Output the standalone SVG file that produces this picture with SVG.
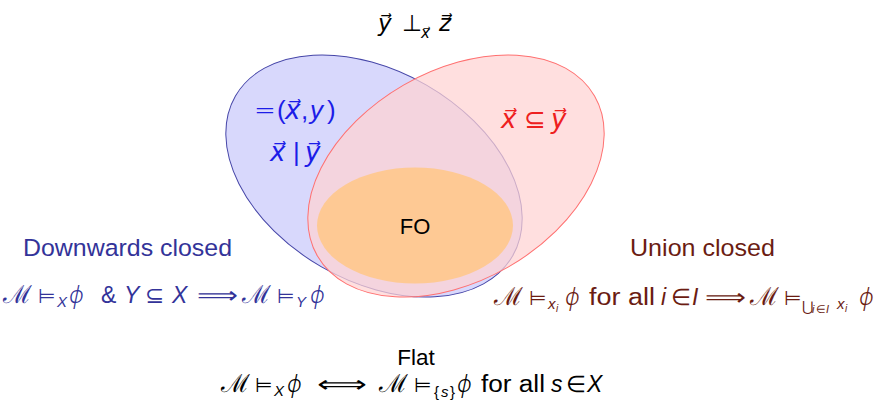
<svg xmlns="http://www.w3.org/2000/svg" width="883" height="402" viewBox="0 0 883 402">
<style>
text{font-family:"Liberation Sans","DejaVu Sans",sans-serif;}
.i{font-style:italic;}
.m{font-size:23px;}
.s{font-size:15px;}
.ss{font-size:10px;}
.sym{font-family:"DejaVu Sans",sans-serif;font-weight:200;}
.phi{font-family:"Noto Sans","DejaVu Sans",sans-serif;font-style:italic;font-weight:300;}
.rel{font-size:20px;}
.lab{font-size:24.5px;}
.blue{fill:#1c1ce8;}
.red{fill:#ee2020;}
.dn{fill:#333399;}
.un{fill:#6b1c12;}
</style>
<g id="venn">
<g id="blue-set"><ellipse cx="374" cy="176" rx="160" ry="105" transform="rotate(30 374 176)" fill="#d8d8fc" stroke="#4646a8" stroke-width="1"/></g>
<g id="red-set"><ellipse cx="456" cy="176" rx="160" ry="105" transform="rotate(-30 456 176)" fill="#ffd2d2" fill-opacity="0.72" stroke="#ff7070" stroke-width="1"/></g>
<g id="fo"><ellipse cx="415" cy="225.5" rx="98" ry="58" fill="#fec994"/><text x="415" y="234" font-size="22" text-anchor="middle" fill="#000">FO</text></g>
</g>
<g id="top-label"><text class="m" y="31" fill="#000"><tspan class="i sym" x="378">y⃗</tspan><tspan class="sym" x="402">⊥</tspan><tspan class="i sym s" x="421" y="38">x⃗</tspan><tspan class="i sym" x="439" y="31">z⃗</tspan></text></g>
<g id="blue-labels" class="blue">
<text y="119" font-size="26"><tspan class="sym" x="254">=</tspan><tspan x="277">(</tspan><tspan class="i sym" x="285">x⃗</tspan><tspan x="301">,</tspan><tspan class="i" x="310">y</tspan><tspan x="327">)</tspan></text>
<text y="161" font-size="26"><tspan class="i sym" x="270">x⃗</tspan><tspan x="293">|</tspan><tspan class="i sym" x="305">y⃗</tspan></text>
</g>
<g id="red-label" class="red"><text y="128" font-size="26"><tspan class="i sym" x="501">x⃗</tspan><tspan class="sym" x="524">⊆</tspan><tspan class="i sym" x="551">y⃗</tspan></text></g>
<g id="downwards">
<text class="lab dn" x="23" y="256" textLength="209" lengthAdjust="spacingAndGlyphs">Downwards closed</text>
<text class="m dn" y="303"><tspan class="sym" x="3" font-size="25">ℳ</tspan><tspan class="sym rel" x="38">⊨</tspan><tspan class="i s" x="57" y="307">X</tspan><tspan class="phi" x="69" y="303">ϕ</tspan><tspan x="101">&amp;</tspan><tspan class="i" x="124">Y</tspan><tspan class="sym" x="145">⊆</tspan><tspan class="i" x="172">X</tspan><tspan class="sym" x="197" textLength="41" lengthAdjust="spacingAndGlyphs">⟹</tspan><tspan class="sym" x="242" font-size="25">ℳ</tspan><tspan class="sym rel" x="277">⊨</tspan><tspan class="i s" x="296" y="307">Y</tspan><tspan class="phi" x="310" y="303">ϕ</tspan></text>
</g>
<g id="union">
<text class="lab un" x="630" y="256" textLength="145" lengthAdjust="spacingAndGlyphs">Union closed</text>
<text class="m un" y="305"><tspan class="sym" x="494" font-size="25">ℳ</tspan><tspan class="sym rel" x="529">⊨</tspan><tspan class="i s" x="548" y="309">x</tspan><tspan class="i ss" x="556" y="312">i</tspan><tspan class="phi" x="565" y="305">ϕ</tspan><tspan x="589" textLength="66" lengthAdjust="spacingAndGlyphs">for all</tspan><tspan class="i" x="661">i</tspan><tspan class="sym" x="671">∈</tspan><tspan class="i" x="692">I</tspan><tspan class="sym" x="705" textLength="41" lengthAdjust="spacingAndGlyphs">⟹</tspan><tspan class="sym" x="750" font-size="25">ℳ</tspan><tspan class="sym rel" x="784">⊨</tspan><tspan class="sym" x="802" y="311" font-size="14">⋃</tspan><tspan class="i" x="812" y="313" font-size="11">i</tspan><tspan class="sym" x="816" y="313" font-size="11">∈</tspan><tspan class="i" x="826" y="313" font-size="11">I</tspan><tspan class="i s" x="837" y="309">x</tspan><tspan class="i ss" x="845" y="312">i</tspan><tspan class="phi" x="859" y="305">ϕ</tspan></text>
</g>
<g id="flat">
<text x="416" y="365" font-size="22.5" text-anchor="middle" fill="#000">Flat</text>
<text class="m" y="392" fill="#000"><tspan class="sym" x="221" font-size="25">ℳ</tspan><tspan class="sym rel" x="255">⊨</tspan><tspan class="i s" x="274" y="396">X</tspan><tspan class="phi" x="287" y="392">ϕ</tspan><tspan class="sym" x="317" textLength="50" lengthAdjust="spacingAndGlyphs">⟺</tspan><tspan class="sym" x="379" font-size="25">ℳ</tspan><tspan class="sym rel" x="414">⊨</tspan><tspan class="s" x="434" y="397">{</tspan><tspan class="i s" x="441" y="397">s</tspan><tspan class="s" x="450" y="397">}</tspan><tspan class="phi" x="457" y="392">ϕ</tspan><tspan x="481" textLength="64" lengthAdjust="spacingAndGlyphs">for all</tspan><tspan class="i" x="551">s</tspan><tspan class="sym" x="566">∈</tspan><tspan class="i" x="587">X</tspan></text>
</g>
</svg>
